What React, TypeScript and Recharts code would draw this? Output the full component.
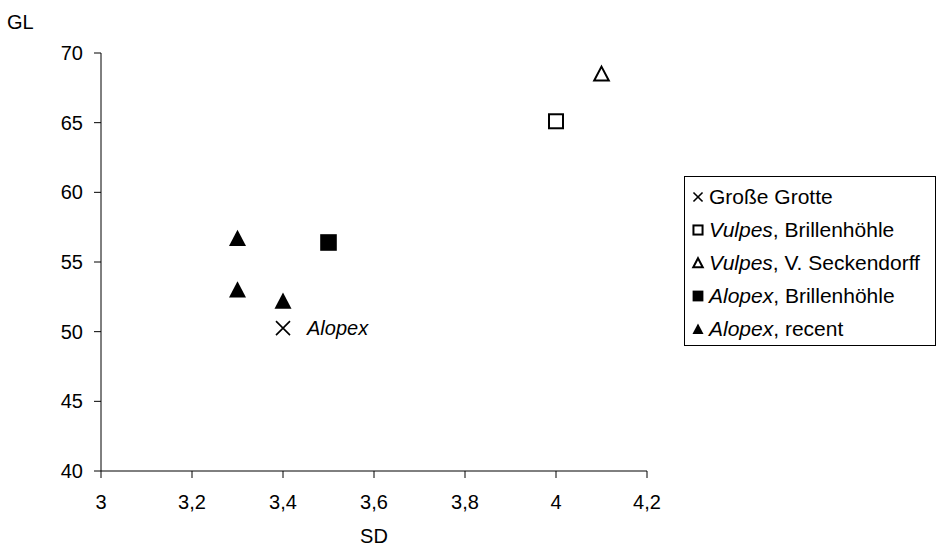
import React from "react";
import { ScatterChart, Scatter, XAxis, YAxis, LabelList } from "recharts";

const grosseGrotte = [{ sd: 3.4, gl: 50.25, note: "Alopex" }];
const vulpesBrillenhoehle = [{ sd: 4.0, gl: 65.1 }];
const vulpesSeckendorff = [{ sd: 4.1, gl: 68.5 }];
const alopexBrillenhoehle = [{ sd: 3.5, gl: 56.4 }];
const alopexRecent = [
  { sd: 3.3, gl: 56.7 },
  { sd: 3.3, gl: 53.0 },
  { sd: 3.4, gl: 52.2 },
];

const xTicks = [3, 3.2, 3.4, 3.6, 3.8, 4, 4.2];
const yTicks = [40, 45, 50, 55, 60, 65, 70];

const FONT = "'Liberation Sans', Arial, sans-serif";
const INK = "#000";
const FS = 20;

type Kind = "cross" | "openSquare" | "openTriangle" | "square" | "triangle";

function marker(kind: Kind, cx: number, cy: number, s = 1) {
  switch (kind) {
    case "cross": {
      const h = 7 * s;
      return (
        <path
          d={`M${cx - h},${cy - h}L${cx + h},${cy + h}M${cx + h},${cy - h}L${cx - h},${cy + h}`}
          stroke={INK}
          strokeWidth={1.6}
          fill="none"
        />
      );
    }
    case "openSquare": {
      const h = 7 * s;
      return <rect x={cx - h} y={cy - h} width={2 * h} height={2 * h} fill="#fff" stroke={INK} strokeWidth={2} />;
    }
    case "openTriangle": {
      const h = 7.3 * s;
      return (
        <path
          d={`M${cx},${cy - h}L${cx + h},${cy + h * 0.9}L${cx - h},${cy + h * 0.9}Z`}
          fill="#fff"
          stroke={INK}
          strokeWidth={2}
        />
      );
    }
    case "square": {
      const h = 8.3 * s;
      return <rect x={cx - h} y={cy - h} width={2 * h} height={2 * h} fill={INK} />;
    }
    case "triangle": {
      const h = 8.5 * s;
      return <path d={`M${cx},${cy - h}L${cx + h},${cy + h * 0.9}L${cx - h},${cy + h * 0.9}Z`} fill={INK} />;
    }
  }
}

const shapeOf = (kind: Kind) => (p: any) => marker(kind, p.cx, p.cy);

const legendItems: { kind: Kind; italic?: string; rest: string }[] = [
  { kind: "cross", rest: "Große Grotte" },
  { kind: "openSquare", italic: "Vulpes", rest: ", Brillenhöhle" },
  { kind: "openTriangle", italic: "Vulpes", rest: ", V. Seckendorff" },
  { kind: "square", italic: "Alopex", rest: ", Brillenhöhle" },
  { kind: "triangle", italic: "Alopex", rest: ", recent" },
];

function LegendBox() {
  return (
    <div
      style={{
        position: "absolute",
        left: 684,
        top: 176,
        width: 252,
        height: 170,
        border: "1px solid #000",
        boxSizing: "border-box",
        paddingTop: 3,
        fontFamily: FONT,
        fontSize: 21,
        color: INK,
        background: "#fff",
      }}
    >
      {legendItems.map((it, i) => (
        <div key={i} style={{ display: "flex", alignItems: "center", height: 33 }}>
          <svg width={24} height={20} style={{ flex: "none" }}>
            {marker(it.kind, 13, 10, 0.65)}
          </svg>
          <span style={{ whiteSpace: "nowrap" }}>
            {it.italic ? <i>{it.italic}</i> : null}
            {it.rest}
          </span>
        </div>
      ))}
    </div>
  );
}

const tickStyle = { fontSize: FS, fill: INK, fontFamily: FONT };

export default function App() {
  return (
    <div style={{ position: "absolute", left: 0, top: 0, width: 939, height: 547, background: "#fff" }}>
      <ScatterChart
        width={939}
        height={547}
        margin={{ top: 53, right: 292, bottom: 0, left: 0 }}
        style={{ fontFamily: FONT }}
      >
        <XAxis
          type="number"
          dataKey="sd"
          domain={[3, 4.2]}
          ticks={xTicks}
          tickFormatter={(v: number) => String(v).replace(".", ",")}
          tick={tickStyle}
          tickSize={7}
          tickMargin={17}
          height={76}
          stroke={INK}
          axisLine={{ stroke: INK }}
          tickLine={{ stroke: INK }}
          label={{ value: "SD", position: "insideBottom", offset: 4, fill: INK, fontSize: FS, fontFamily: FONT }}
        />
        <YAxis
          type="number"
          dataKey="gl"
          domain={[40, 70]}
          ticks={yTicks}
          tick={tickStyle}
          tickSize={7}
          tickMargin={11}
          width={101}
          stroke={INK}
          axisLine={{ stroke: INK }}
          tickLine={{ stroke: INK }}
          label={{
            content: (props: any) => {
              const vb = props.viewBox || { x: 0, y: 53 };
              return (
                <text x={vb.x + 7} y={vb.y - 24} fontSize={FS} fill={INK} fontFamily={FONT}>
                  GL
                </text>
              );
            },
          }}
        />
        <Scatter name="Große Grotte" data={grosseGrotte} shape={shapeOf("cross")} isAnimationActive={false}>
          <LabelList
            dataKey="note"
            content={(p: any) => (
              <text
                x={p.x + p.width / 2 + 24}
                y={p.y + p.height / 2}
                dy="0.35em"
                fontSize={FS}
                fontStyle="italic"
                fill={INK}
                fontFamily={FONT}
              >
                {p.value}
              </text>
            )}
          />
        </Scatter>
        <Scatter name="Vulpes, Brillenhöhle" data={vulpesBrillenhoehle} shape={shapeOf("openSquare")} isAnimationActive={false} />
        <Scatter name="Vulpes, V. Seckendorff" data={vulpesSeckendorff} shape={shapeOf("openTriangle")} isAnimationActive={false} />
        <Scatter name="Alopex, Brillenhöhle" data={alopexBrillenhoehle} shape={shapeOf("square")} isAnimationActive={false} />
        <Scatter name="Alopex, recent" data={alopexRecent} shape={shapeOf("triangle")} isAnimationActive={false} />
      </ScatterChart>
      <LegendBox />
    </div>
  );
}
